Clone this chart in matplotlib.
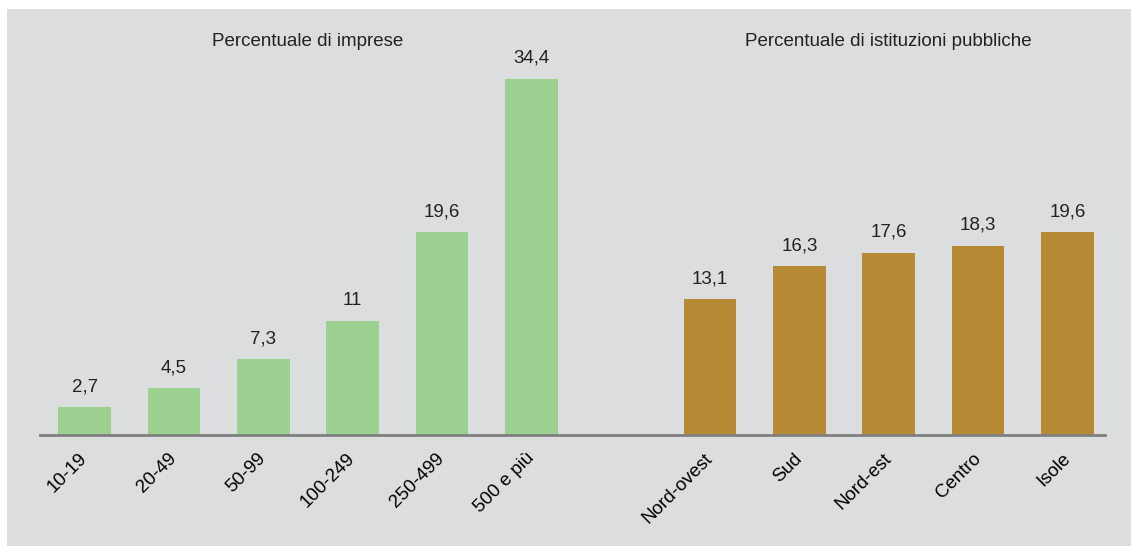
import matplotlib
matplotlib.use("Agg")
import matplotlib.pyplot as plt
from matplotlib.patches import Rectangle

plt.rcParams['font.family'] = ['Liberation Sans', 'DejaVu Sans']

imprese_labels = ["10-19", "20-49", "50-99", "100-249", "250-499", "500 e più"]
imprese_values = [2.7, 4.5, 7.3, 11, 19.6, 34.4]
pa_labels = ["Nord-ovest", "Sud", "Nord-est", "Centro", "Isole"]
pa_values = [13.1, 16.3, 17.6, 18.3, 19.6]
title_imprese = "Percentuale di imprese"
title_pa = "Percentuale di istituzioni pubbliche"

GREEN = "#9DD192"
GOLD = "#B68935"
BG = "#DCDDDF"

W, H = 1131, 547
fig = plt.figure(figsize=(W / 100, H / 100), dpi=100, facecolor="white")
fig.patches.append(Rectangle((7 / W, 1 / H), (W - 7) / W, (H - 10) / H,
                             transform=fig.transFigure, facecolor=BG,
                             edgecolor="none", zorder=-10))

ax = fig.add_axes([40 / W, (H - 435) / H, 1065 / W, (435 - 20) / H])
ax.set_facecolor("none")

x_left = list(range(len(imprese_values)))
x_right = [len(imprese_values) + 1 + i for i in range(len(pa_values))]

bw = 0.59
ax.bar(x_left, imprese_values, width=bw, color=GREEN, zorder=2)
ax.bar(x_right, pa_values, width=bw, color=GOLD, zorder=2)

def fmt(v):
    s = f"{v:g}"
    return s.replace(".", ",")

for xs, vals in ((x_left, imprese_values), (x_right, pa_values)):
    for xi, v in zip(xs, vals):
        ax.annotate(fmt(v), (xi, v), xytext=(0, 11.5), textcoords="offset points",
                    ha="center", va="baseline", fontsize=13.5, color="#222222")

ax.set_xlim(-0.5, 11.42)
ax.set_ylim(0, (435 - 20) / 10.35)

ax.set_xticks(x_left + x_right)
ax.set_xticklabels(imprese_labels + pa_labels, rotation=45, ha="right", va="center",
                   rotation_mode="anchor", fontsize=13.5, color="black")
ax.tick_params(axis="x", length=0, pad=15)
ax.set_yticks([])
for s in ("left", "right", "top"):
    ax.spines[s].set_visible(False)
ax.spines["bottom"].set_color("#7F7F7F")
ax.spines["bottom"].set_linewidth(2)
ax.spines["bottom"].set_zorder(3)

ax.text(2.5, (435 - 42) / 10.35, title_imprese, ha="center", va="center",
        fontsize=13.5, color="#222222")
ax.text(9, (435 - 42) / 10.35, title_pa, ha="center", va="center",
        fontsize=13.5, color="#222222")

fig.savefig("out.png", dpi=100, facecolor="white")
